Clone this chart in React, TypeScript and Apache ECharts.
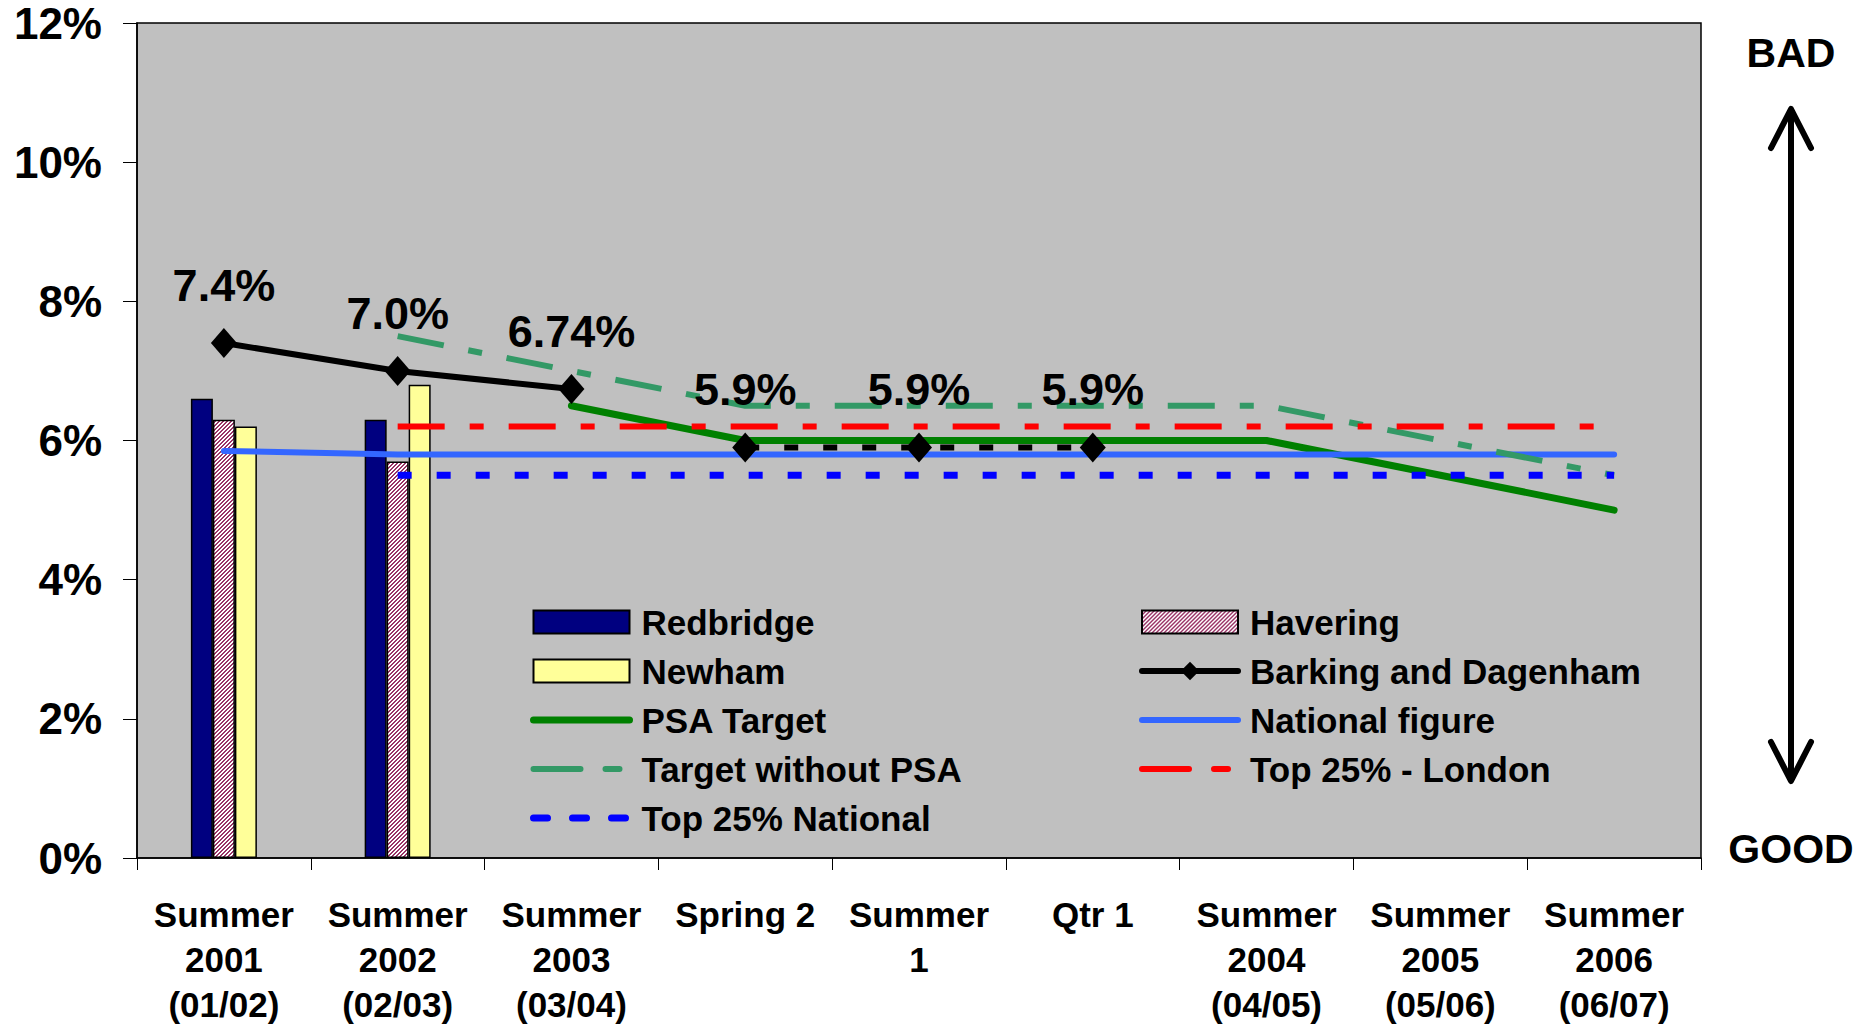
import React, { useEffect, useRef } from 'react';
import * as echarts from 'echarts';

const categories = [
  'Summer\n2001\n(01/02)',
  'Summer\n2002\n(02/03)',
  'Summer\n2003\n(03/04)',
  'Spring 2',
  'Summer\n1',
  'Qtr 1',
  'Summer\n2004\n(04/05)',
  'Summer\n2005\n(05/06)',
  'Summer\n2006\n(06/07)',
];

const redbridge = [6.6, 6.3, null, null, null, null, null, null, null];
const havering = [6.3, 5.7, null, null, null, null, null, null, null];
const newham = [6.2, 6.8, null, null, null, null, null, null, null];
const barkingEarly = [7.4, 7.0, 6.74, null, null, null, null, null, null];
const barkingLater = [null, null, null, 5.9, 5.9, 5.9, null, null, null];
const psaTarget = [null, null, 6.5, 6.0, 6.0, 6.0, 6.0, 5.5, 5.0];
const targetWithoutPsa = [null, 7.5, 7.0, 6.5, 6.5, 6.5, 6.5, 6.0, 5.5];
const nationalFigure = [5.85, 5.8, 5.8, 5.8, 5.8, 5.8, 5.8, 5.8, 5.8];
const top25London = [null, 6.2, 6.2, 6.2, 6.2, 6.2, 6.2, 6.2, 6.2];
const top25National = [null, 5.5, 5.5, 5.5, 5.5, 5.5, 5.5, 5.5, 5.5];

const yMin = 0;
const yMax = 12;
const yInterval = 2;

const legendLeft = ['Redbridge', 'Newham', 'PSA Target', 'Target without PSA', 'Top 25% National'];
const legendRight = ['Havering', 'Barking and Dagenham', 'National figure', 'Top 25% - London'];
const barNames = ['Redbridge', 'Havering', 'Newham'];
const markerNames = ['Barking and Dagenham'];

const FONT = '"Liberation Sans", Arial, Helvetica, sans-serif';

function makeHatch(): HTMLCanvasElement {
  const c = document.createElement('canvas');
  c.width = 4;
  c.height = 4;
  const ctx = c.getContext('2d')!;
  ctx.fillStyle = '#FFFFFF';
  ctx.fillRect(0, 0, 4, 4);
  ctx.fillStyle = '#993366';
  for (let i = 0; i < 4; i++) {
    ctx.fillRect(i, 3 - i, 1, 1);
    ctx.fillRect(i, (4 - i) % 4, 1, 1);
  }
  return c;
}

function pctLabel(p: any) {
  const v = p.value as number;
  const dec = Math.round(v * 100) % 10 === 0 ? 1 : 2;
  return v.toFixed(dec) + '%';
}

export default function App() {
  const ref = useRef<HTMLDivElement>(null);

  useEffect(() => {
    if (!ref.current) return;
    const chart = echarts.init(ref.current, undefined, { renderer: 'svg' });
    const hatch = makeHatch();

    const labelStyle = {
      show: true,
      position: 'top' as const,
      distance: 20,
      formatter: pctLabel,
      fontSize: 45,
      fontWeight: 'bold' as const,
      color: '#000',
      fontFamily: FONT,
      lineHeight: 45,
    };

    const legendCommon = {
      orient: 'vertical' as const,
      itemWidth: 96,
      itemHeight: 23,
      itemGap: 9,
      selectedMode: false,
      lineStyle: { width: 'inherit', type: 'inherit', cap: 'round' },
      textStyle: {
        fontSize: 35,
        fontWeight: 'bold' as const,
        color: '#000',
        fontFamily: FONT,
        lineHeight: 40,
        padding: [0, 0, 0, 7],
      },
    };
    const legendData = (names: string[]) =>
      names.map((n) => {
        if (barNames.includes(n)) return { name: n, icon: 'rect' };
        if (markerNames.includes(n)) return { name: n };
        return { name: n, itemStyle: { opacity: 0 } };
      });

    const option: any = {
      animation: false,
      backgroundColor: '#FFFFFF',
      textStyle: { fontFamily: FONT },
      grid: {
        left: 137,
        top: 23,
        right: 171,
        bottom: 165,
        show: true,
        backgroundColor: '#C0C0C0',
        borderColor: '#000',
        borderWidth: 1.5,
      },
      legend: [
        { ...legendCommon, left: 525, top: 597, data: legendData(legendLeft) },
        { ...legendCommon, left: 1134, top: 597, data: legendData(legendRight) },
      ],
      xAxis: {
        type: 'category',
        data: categories,
        boundaryGap: true,
        axisLine: { show: true, lineStyle: { color: '#000', width: 1.5 } },
        axisTick: { show: true, length: 12, interval: 0, lineStyle: { color: '#000', width: 1 } },
        axisLabel: {
          interval: 0,
          margin: 34,
          fontSize: 35,
          lineHeight: 45,
          fontWeight: 'bold',
          color: '#000',
          fontFamily: FONT,
        },
        splitLine: { show: false },
      },
      yAxis: {
        type: 'value',
        min: yMin,
        max: yMax,
        interval: yInterval,
        axisLine: { show: true, lineStyle: { color: '#000', width: 1.5 } },
        axisTick: { show: true, length: 14, inside: false, lineStyle: { color: '#000', width: 1 } },
        axisLabel: {
          formatter: '{value}%',
          margin: 35,
          fontSize: 44,
          fontWeight: 'bold',
          color: '#000',
          fontFamily: FONT,
        },
        splitLine: { show: false },
      },
      series: [
        {
          name: 'Redbridge',
          type: 'bar',
          data: redbridge,
          barWidth: 22,
          barGap: '0%',
          itemStyle: { color: '#000080', borderColor: '#000', borderWidth: 1.5 },
          z: 1,
        },
        {
          name: 'Havering',
          type: 'bar',
          data: havering,
          barWidth: 22,
          barGap: '0%',
          itemStyle: {
            color: { image: hatch, repeat: 'repeat' },
            borderColor: '#000',
            borderWidth: 1.5,
          },
          z: 1,
        },
        {
          name: 'Newham',
          type: 'bar',
          data: newham,
          barWidth: 22,
          barGap: '0%',
          itemStyle: { color: '#FFFF99', borderColor: '#000', borderWidth: 1.5 },
          z: 1,
        },
        {
          name: 'Barking and Dagenham',
          type: 'line',
          data: barkingEarly,
          symbol: 'diamond',
          symbolSize: [26, 30],
          itemStyle: { color: '#000' },
          lineStyle: { color: '#000', width: 6, cap: 'round' },
          label: labelStyle,
          z: 6,
        },
        {
          name: 'Barking and Dagenham',
          type: 'line',
          data: barkingLater,
          symbol: 'none',
          lineStyle: { color: '#000', width: 6, type: [14, 25] },
          z: 2,
        },
        {
          name: 'PSA Target',
          type: 'line',
          data: psaTarget,
          symbol: 'none',
          itemStyle: { color: '#008000' },
          lineStyle: { color: '#008000', width: 7, cap: 'round' },
          z: 3,
        },
        {
          name: 'National figure',
          type: 'line',
          data: nationalFigure,
          symbol: 'none',
          itemStyle: { color: '#3366FF' },
          lineStyle: { color: '#3366FF', width: 6, cap: 'round' },
          z: 3,
        },
        {
          name: 'Target without PSA',
          type: 'line',
          data: targetWithoutPsa,
          symbol: 'none',
          itemStyle: { color: '#339966' },
          lineStyle: { color: '#339966', width: 6, type: [47, 25, 14, 25] },
          z: 3,
        },
        {
          name: 'Top 25% - London',
          type: 'line',
          data: top25London,
          symbol: 'none',
          itemStyle: { color: '#FF0000' },
          lineStyle: { color: '#FF0000', width: 6, type: [47, 25, 14, 25] },
          z: 3,
        },
        {
          name: 'Top 25% National',
          type: 'line',
          data: top25National,
          symbol: 'none',
          itemStyle: { color: '#0000FF' },
          lineStyle: { color: '#0000FF', width: 7, type: [14, 25] },
          z: 3,
        },
        {
          name: 'Barking and Dagenham',
          type: 'scatter',
          data: barkingLater,
          symbol: 'diamond',
          symbolSize: [26, 30],
          itemStyle: { color: '#000', opacity: 1 },
          label: labelStyle,
          z: 6,
        },
      ],
      graphic: [
        {
          type: 'line',
          shape: { x1: 1791, y1: 110, x2: 1791, y2: 780 },
          style: { stroke: '#000', lineWidth: 6 },
        },
        {
          type: 'polyline',
          shape: { points: [[1771, 148], [1791, 109], [1811, 148]] },
          style: { stroke: '#000', lineWidth: 6, fill: null, lineCap: 'round', lineJoin: 'round' },
        },
        {
          type: 'polyline',
          shape: { points: [[1771, 742], [1791, 781], [1811, 742]] },
          style: { stroke: '#000', lineWidth: 6, fill: null, lineCap: 'round', lineJoin: 'round' },
        },
        {
          type: 'text',
          x: 1791,
          y: 53,
          style: {
            text: 'BAD',
            fontSize: 41,
            fontWeight: 'bold',
            fontFamily: FONT,
            fill: '#000',
            align: 'center',
            verticalAlign: 'middle',
          },
        },
        {
          type: 'text',
          x: 1791,
          y: 849,
          style: {
            text: 'GOOD',
            fontSize: 41,
            fontWeight: 'bold',
            fontFamily: FONT,
            fill: '#000',
            align: 'center',
            verticalAlign: 'middle',
          },
        },
      ],
    };

    chart.setOption(option);
    return () => {
      chart.dispose();
    };
  }, []);

  return (
    <div
      ref={ref}
      style={{ position: 'absolute', left: 0, top: 0, width: 1872, height: 1027, background: '#fff' }}
    />
  );
}
